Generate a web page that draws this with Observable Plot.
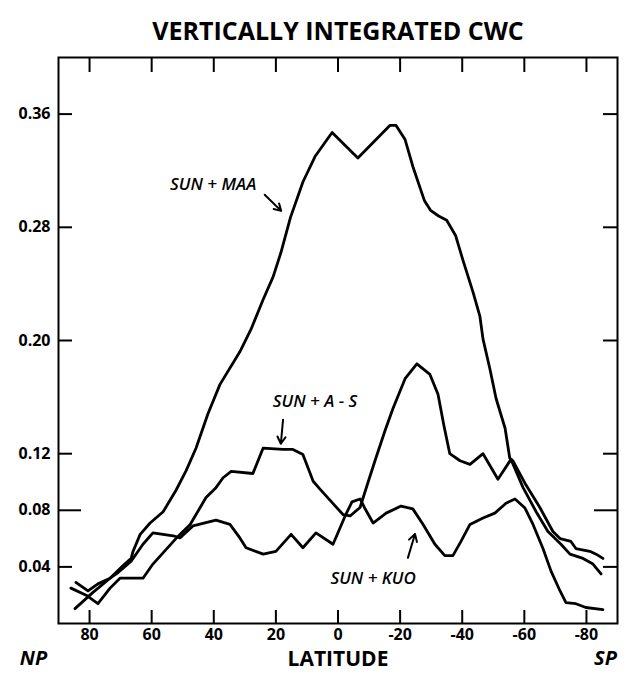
<!DOCTYPE html>
<html><head><meta charset="utf-8">
<script src="https://cdn.jsdelivr.net/npm/d3@7"></script>
<script src="https://cdn.jsdelivr.net/npm/@observablehq/plot@0.6"></script>
<style>body{margin:0;background:#fff}</style>
</head><body><div id="chart"></div>
<script>
// SUN + MAA
const maaLat = [84.7,78.9,73.4,69.2,66.6,66.0,63.7,60.5,56.3,52.2,48.9,45.7,41.9,38.0,31.6,28.0,24.1,20.9,18.4,15.3,11.3,7.4,1.9,-6.4,-16.7,-18.7,-21.6,-24.1,-27.8,-29.8,-32.4,-35.0,-37.9,-40.2,-43.5,-45.7,-46.7,-48.9,-50.9,-53.8,-55.3,-56.3,-60.5,-65.0,-69.2,-71.5,-75.0,-76.6,-81.1,-83.1,-85.3];
const maaVal = [0.0105,0.022,0.032,0.041,0.046,0.051,0.063,0.071,0.079,0.094,0.108,0.124,0.148,0.169,0.192,0.208,0.229,0.245,0.262,0.287,0.312,0.330,0.347,0.329,0.352,0.352,0.342,0.323,0.299,0.292,0.288,0.285,0.274,0.257,0.234,0.217,0.201,0.180,0.159,0.138,0.117,0.115,0.098,0.082,0.065,0.060,0.058,0.053,0.051,0.049,0.046];
// SUN + A - S
const asLat = [86.0,81.1,77.3,73.4,70.2,68.6,62.8,59.6,52.2,47.6,42.5,39.3,37.0,34.4,27.4,24.1,17.7,14.5,11.3,8.0,5.8,-1.6,-3.9,-7.1,-9.7,-12.2,-15.1,-17.7,-21.6,-25.4,-29.6,-32.2,-34.1,-36.0,-39.3,-42.5,-46.7,-51.5,-55.7,-59.6,-63.8,-67.6,-71.8,-74.7,-78.9,-82.1,-84.7];
const asVal = [0.025,0.020,0.014,0.025,0.032,0.032,0.032,0.042,0.060,0.070,0.089,0.096,0.103,0.1075,0.106,0.124,0.123,0.123,0.1195,0.1005,0.095,0.077,0.076,0.082,0.100,0.117,0.136,0.152,0.173,0.1835,0.176,0.162,0.140,0.120,0.115,0.1125,0.120,0.102,0.116,0.096,0.079,0.065,0.056,0.049,0.046,0.042,0.035];
// SUN + KUO
const kuoLat = [84.4,80.5,77.3,73.4,70.8,66.6,62.8,59.6,53.1,50.9,46.7,39.3,34.8,31.6,29.6,24.1,20.0,15.1,11.3,7.1,1.6,-2.3,-4.5,-7.1,-8.5,-11.3,-15.5,-20.3,-24.1,-27.4,-31.2,-34.4,-37.0,-39.6,-42.5,-46.7,-50.5,-54.1,-57.0,-60.2,-62.8,-66.0,-68.6,-71.5,-73.4,-76.6,-79.8,-85.3];
const kuoVal = [0.029,0.023,0.028,0.032,0.036,0.044,0.056,0.064,0.062,0.0605,0.069,0.073,0.070,0.0605,0.0535,0.049,0.051,0.063,0.0535,0.064,0.056,0.076,0.086,0.088,0.082,0.071,0.078,0.083,0.081,0.070,0.056,0.048,0.048,0.058,0.070,0.0745,0.078,0.085,0.088,0.0816,0.070,0.053,0.037,0.023,0.0148,0.014,0.0113,0.0098];

const xTicks = [80,60,40,20,0,-20,-40,-60,-80];
const yTicks = [0.04,0.08,0.12,0.20,0.28,0.36];

const labels = [
  {text:"SUN + MAA", lat:40.2, val:0.310},
  {text:"SUN + A - S", lat:7.4, val:0.157},
  {text:"SUN + KUO", lat:-11.3, val:0.0316}
];
const arrows = [
  {lat1:23.6, val1:0.303, lat2:18.3, val2:0.2916},
  {lat1:17.7, val1:0.144, lat2:18.4, val2:0.127},
  {lat1:-22.5, val1:0.0464, lat2:-24.8, val2:0.0633}
];

const rows = [].concat(
  maaLat.map((lat,i)=>({series:"MAA", lat, val:maaVal[i]})),
  asLat.map((lat,i)=>({series:"AS", lat, val:asVal[i]})),
  kuoLat.map((lat,i)=>({series:"KUO", lat, val:kuoVal[i]}))
);

const W=632, H=679, mt=57, mb=56, ml=58, mr=15;
const innerH = H-mt-mb, innerW = W-ml-mr;
const font = "'Open Sans', sans-serif";
const shortY = yTicks.filter(d=>d!==0.08), longY = yTicks.filter(d=>d===0.08);

const chart = Plot.plot({
  width: W, height: H,
  marginTop: mt, marginBottom: mb, marginLeft: ml, marginRight: mr,
  x: {domain:[90,-90], axis:null},
  y: {domain:[0,0.40], axis:null},
  style: {fontFamily: font, background:"#fff", color:"#000"},
  marks: [
    Plot.frame({stroke:"#000", strokeWidth:2}),
    Plot.ruleX(xTicks, {x:d=>d, insetTop: innerH-13, stroke:"#000", strokeWidth:2}),
    Plot.ruleX(xTicks, {x:d=>d, insetBottom: innerH-15, stroke:"#000", strokeWidth:2}),
    Plot.ruleY(shortY, {y:d=>d, insetRight: innerW-14, stroke:"#000", strokeWidth:2}),
    Plot.ruleY(longY, {y:d=>d, insetRight: innerW-23, stroke:"#000", strokeWidth:2}),
    Plot.ruleY(shortY, {y:d=>d, insetLeft: innerW-14, stroke:"#000", strokeWidth:2}),
    Plot.ruleY(longY, {y:d=>d, insetLeft: innerW-23, stroke:"#000", strokeWidth:2}),
    Plot.text(xTicks, {x:d=>d, frameAnchor:"bottom", dy:16, text:d=>String(d), fontSize:16, fontWeight:"bold", fill:"#000"}),
    Plot.text(yTicks, {y:d=>d, frameAnchor:"left", dx:-8, textAnchor:"end", text:d=>d3.format(".2f")(d), fontSize:16, fontWeight:"bold", fill:"#000"}),
    Plot.line(rows, {x:"lat", y:"val", z:"series", stroke:"#000", strokeWidth:2.8, strokeLinejoin:"round", strokeLinecap:"round"}),
    Plot.arrow(arrows, {x1:"lat1", y1:"val1", x2:"lat2", y2:"val2", stroke:"#000", strokeWidth:2, headLength:9}),
    Plot.text(labels, {x:"lat", y:"val", text:"text", fontSize:17, fontStyle:"italic", fontWeight:600, fill:"#000"}),
    Plot.text(["VERTICALLY INTEGRATED CWC"], {frameAnchor:"top", dy:-35, text:d=>d, fontSize:25, fontWeight:"bold", fill:"#000"}),
    Plot.text(["LATITUDE"], {frameAnchor:"bottom", dy:42, text:d=>d, fontSize:21, fontWeight:"bold", fill:"#000"}),
    Plot.text(["NP"], {frameAnchor:"bottom-left", dx:-25, dy:41, textAnchor:"middle", text:d=>d, fontSize:20, fontWeight:"bold", fontStyle:"italic", fill:"#000"}),
    Plot.text(["SP"], {frameAnchor:"bottom-right", dx:-12, dy:41, textAnchor:"middle", text:d=>d, fontSize:20, fontWeight:"bold", fontStyle:"italic", fill:"#000"})
  ]
});
document.getElementById("chart").appendChild(chart);
</script>
</body></html>
